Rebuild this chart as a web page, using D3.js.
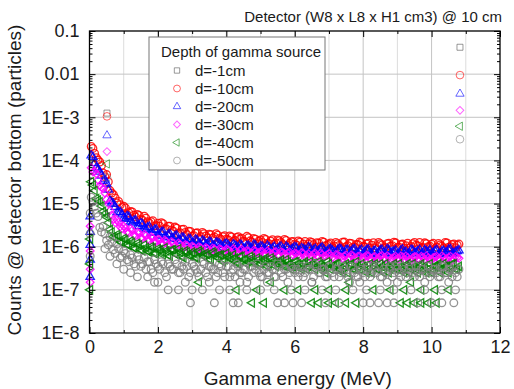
<!DOCTYPE html>
<html>
<head>
<meta charset="utf-8">
<script src="https://cdn.jsdelivr.net/npm/d3@7"></script>
<style>
  body { margin: 0; background: #fff; }
  svg { display: block; font-family: "Liberation Sans", Arial, sans-serif; }
</style>
</head>
<body>
<svg id="chart" width="514" height="389"></svg>
<script>
// energy bins (MeV) of the continuum, two interleaved sets of bins
const energy = [
  0.1, 0.2, 0.3, 0.4, 0.5, 0.6, 0.7, 0.8, 0.9, 1.0,
  1.1, 1.2, 1.3, 1.4, 1.5, 1.6, 1.7, 1.8, 1.9, 2.0,
  2.1, 2.2, 2.3, 2.4, 2.5, 2.6, 2.7, 2.8, 2.9, 3.0,
  3.1, 3.2, 3.3, 3.4, 3.5, 3.6, 3.7, 3.8, 3.9, 4.0,
  4.1, 4.2, 4.3, 4.4, 4.5, 4.6, 4.7, 4.8, 4.9, 5.0,
  5.1, 5.2, 5.3, 5.4, 5.5, 5.6, 5.7, 5.8, 5.9, 6.0,
  6.1, 6.2, 6.3, 6.4, 6.5, 6.6, 6.7, 6.8, 6.9, 7.0,
  7.1, 7.2, 7.3, 7.4, 7.5, 7.6, 7.7, 7.8, 7.9, 8.0,
  8.1, 8.2, 8.3, 8.4, 8.5, 8.6, 8.7, 8.8, 8.9, 9.0,
  9.1, 9.2, 9.3, 9.4, 9.5, 9.6, 9.7, 9.8, 9.9, 10.0,
  10.1, 10.2, 10.3, 10.4, 10.5, 10.6, 10.7, 10.8
];
const energyMid = [
  0.05, 0.15, 0.25, 0.35, 0.45, 0.55, 0.65, 0.75, 0.85, 0.95,
  1.05, 1.15, 1.25, 1.35, 1.45, 1.55, 1.65, 1.75, 1.85, 1.95,
  2.05, 2.15, 2.25, 2.35, 2.45, 2.55, 2.65, 2.75, 2.85, 2.95,
  3.05, 3.15, 3.25, 3.35, 3.45, 3.55, 3.65, 3.75, 3.85, 3.95,
  4.05, 4.15, 4.25, 4.35, 4.45, 4.55, 4.65, 4.75, 4.85, 4.95,
  5.05, 5.15, 5.25, 5.35, 5.45, 5.55, 5.65, 5.75, 5.85, 5.95,
  6.05, 6.15, 6.25, 6.35, 6.45, 6.55, 6.65, 6.75, 6.85, 6.95,
  7.05, 7.15, 7.25, 7.35, 7.45, 7.55, 7.65, 7.75, 7.85, 7.95,
  8.05, 8.15, 8.25, 8.35, 8.45, 8.55, 8.65, 8.75, 8.85, 8.95,
  9.05, 9.15, 9.25, 9.35, 9.45, 9.55, 9.65, 9.75, 9.85, 9.95,
  10.05, 10.15, 10.25, 10.35, 10.45, 10.55, 10.65, 10.75
];

const seriesNames = ["d=-1cm", "d=-10cm", "d=-20cm", "d=-30cm", "d=-40cm", "d=-50cm"];

// counts per bin for each source depth (d=-1cm shows no visible continuum)
const d10 = [
  1.9e-4, 1.16e-4, 9.2e-5, 5.1e-5, 4.7e-5, 2.0e-5, 1.6e-5, 1.03e-5, 9.4e-6, 8.7e-6,
  5.6e-6, 6.6e-6, 5.4e-6, 5.6e-6, 4.3e-6, 5.1e-6, 3.8e-6, 3.8e-6, 3.0e-6, 3.5e-6,
  3.6e-6, 2.6e-6, 3.0e-6, 2.45e-6, 2.85e-6, 2.0e-6, 2.5e-6, 2.15e-6, 2.3e-6, 1.75e-6,
  2.05e-6, 1.55e-6, 2.15e-6, 1.77e-6, 1.95e-6, 1.57e-6, 2.0e-6, 1.55e-6, 1.7e-6, 1.5e-6,
  1.77e-6, 1.32e-6, 1.64e-6, 1.52e-6, 1.34e-6, 1.74e-6, 1.37e-6, 1.55e-6, 1.16e-6, 1.44e-6,
  1.55e-6, 1.2e-6, 1.35e-6, 1.15e-6, 1.43e-6, 1.26e-6, 1.47e-6, 1.07e-6, 1.31e-6, 1.14e-6,
  1.36e-6, 1.0e-6, 1.32e-6, 1.16e-6, 1.26e-6, 9.8e-7, 1.2e-6, 1.33e-6, 1.05e-6, 1.15e-6,
  9.5e-7, 1.25e-6, 1.07e-6, 1.27e-6, 1.0e-6, 1.2e-6, 9.7e-7, 1.13e-6, 1.29e-6, 1.02e-6,
  1.16e-6, 9.3e-7, 1.24e-6, 1.05e-6, 1.18e-6, 9.1e-7, 1.17e-6, 1.03e-6, 1.27e-6, 9.6e-7,
  1.12e-6, 9.2e-7, 1.21e-6, 1.01e-6, 1.25e-6, 1.04e-6, 9.4e-7, 1.23e-6, 1.0e-6, 1.14e-6,
  9.0e-7, 1.19e-6, 1.03e-6, 1.26e-6, 9.7e-7, 1.12e-6, 9.5e-7, 1.15e-6
];
const d10b = [
  2.1e-4, 1.45e-4, 1.02e-4, 7.6e-5, 4.2e-5, 3.2e-5, 1.75e-5, 1.35e-5, 1.12e-5, 8.1e-6,
  7.9e-6, 6.1e-6, 6.4e-6, 4.9e-6, 5.3e-6, 4.1e-6, 4.6e-6, 3.5e-6, 4.0e-6, 3.1e-6,
  3.0e-6, 3.4e-6, 2.6e-6, 3.0e-6, 2.3e-6, 2.7e-6, 2.1e-6, 2.55e-6, 1.9e-6, 2.25e-6,
  1.8e-6, 2.1e-6, 1.72e-6, 2.0e-6, 1.6e-6, 1.9e-6, 1.68e-6, 1.85e-6, 1.48e-6, 1.8e-6,
  1.45e-6, 1.68e-6, 1.4e-6, 1.7e-6, 1.58e-6, 1.3e-6, 1.62e-6, 1.28e-6, 1.5e-6, 1.35e-6,
  1.25e-6, 1.48e-6, 1.18e-6, 1.45e-6, 1.22e-6, 1.38e-6, 1.12e-6, 1.4e-6, 1.2e-6, 1.32e-6,
  1.1e-6, 1.28e-6, 1.15e-6, 1.02e-6, 1.3e-6, 1.12e-6, 1.24e-6, 1.0e-6, 1.27e-6, 1.08e-6,
  1.22e-6, 1.04e-6, 1.17e-6, 9.4e-7, 1.28e-6, 1.06e-6, 1.19e-6, 9.8e-7, 1.12e-6, 1.25e-6,
  9.9e-7, 1.21e-6, 1.08e-6, 9.4e-7, 1.26e-6, 1.1e-6, 9.6e-7, 1.2e-6, 1.06e-6, 1.23e-6,
  9.8e-7, 1.15e-6, 1.05e-6, 9.3e-7, 1.18e-6, 1.08e-6, 1.26e-6, 9.6e-7, 1.17e-6, 1.03e-6,
  1.2e-6, 9.8e-7, 1.1e-6, 9.4e-7, 1.22e-6, 1.0e-6, 1.16e-6, 1.08e-6
];
const d20 = [
  1.2e-4, 6.8e-5, 5.5e-5, 3.3e-5, 2.9e-5, 1.15e-5, 9.8e-6, 6.2e-6, 6.3e-6, 4.6e-6,
  5.1e-6, 3.8e-6, 4.0e-6, 3.0e-6, 3.5e-6, 2.6e-6, 2.8e-6, 2.1e-6, 2.45e-6, 1.85e-6,
  2.15e-6, 1.7e-6, 1.9e-6, 1.55e-6, 1.75e-6, 1.4e-6, 1.62e-6, 1.3e-6, 1.5e-6, 1.22e-6,
  1.45e-6, 1.2e-6, 1.38e-6, 1.12e-6, 1.3e-6, 1.05e-6, 1.24e-6, 1.15e-6, 9.7e-7, 1.18e-6,
  9.6e-7, 1.14e-6, 1.0e-6, 1.12e-6, 8.8e-7, 1.05e-6, 9.5e-7, 1.1e-6, 8.6e-7, 1.02e-6,
  9.0e-7, 1.06e-6, 8.3e-7, 9.9e-7, 8.8e-7, 1.01e-6, 8.1e-7, 9.4e-7, 8.6e-7, 9.8e-7,
  7.7e-7, 9.2e-7, 8.4e-7, 9.6e-7, 7.5e-7, 8.9e-7, 8.0e-7, 9.5e-7, 7.3e-7, 8.7e-7,
  8.1e-7, 7.0e-7, 8.9e-7, 7.6e-7, 8.3e-7, 6.7e-7, 8.6e-7, 7.4e-7, 8.0e-7, 6.8e-7,
  8.4e-7, 7.1e-7, 7.8e-7, 6.5e-7, 8.2e-7, 7.3e-7, 8.7e-7, 6.9e-7, 7.7e-7, 6.6e-7,
  8.1e-7, 7.2e-7, 6.4e-7, 8.5e-7, 7.0e-7, 7.9e-7, 6.7e-7, 8.3e-7, 7.4e-7, 6.8e-7,
  8.0e-7, 6.6e-7, 7.7e-7, 7.1e-7, 8.6e-7, 6.9e-7, 7.5e-7, 8.2e-7
];
const d20b = [
  1.3e-4, 8.6e-5, 6.2e-5, 4.4e-5, 3.6e-5, 2.1e-5, 1.05e-5, 8.3e-6, 6.4e-6, 5.6e-6,
  4.4e-6, 4.9e-6, 3.6e-6, 4.1e-6, 3.0e-6, 3.3e-6, 2.5e-6, 2.9e-6, 2.1e-6, 2.5e-6,
  1.8e-6, 2.2e-6, 1.65e-6, 1.95e-6, 1.5e-6, 1.8e-6, 1.38e-6, 1.6e-6, 1.25e-6, 1.48e-6,
  1.18e-6, 1.4e-6, 1.1e-6, 1.32e-6, 1.15e-6, 1.26e-6, 1.02e-6, 1.22e-6, 1.08e-6, 1.14e-6,
  1.1e-6, 9.3e-7, 1.08e-6, 9.2e-7, 1.06e-6, 9.0e-7, 1.04e-6, 8.9e-7, 1.07e-6, 9.3e-7,
  1.0e-6, 8.5e-7, 9.7e-7, 9.2e-7, 8.2e-7, 9.6e-7, 8.7e-7, 1.0e-6, 8.0e-7, 9.1e-7,
  9.4e-7, 8.1e-7, 8.8e-7, 7.9e-7, 9.3e-7, 8.3e-7, 7.6e-7, 9.0e-7, 8.5e-7, 7.8e-7,
  8.8e-7, 7.5e-7, 8.2e-7, 8.7e-7, 7.2e-7, 8.4e-7, 7.7e-7, 8.8e-7, 7.0e-7, 8.5e-7,
  7.6e-7, 8.6e-7, 6.8e-7, 8.0e-7, 7.4e-7, 8.5e-7, 7.1e-7, 8.3e-7, 7.5e-7, 8.1e-7,
  7.0e-7, 8.6e-7, 7.6e-7, 6.9e-7, 8.2e-7, 7.3e-7, 8.5e-7, 7.1e-7, 7.8e-7, 8.3e-7,
  7.2e-7, 8.4e-7, 6.8e-7, 8.0e-7, 7.4e-7, 8.7e-7, 7.0e-7, 7.9e-7
];
const d30 = [
  5.4e-5, 4.9e-5, 2.6e-5, 2.2e-5, 1.25e-5, 6.8e-6, 4.3e-6, 4.2e-6, 2.9e-6, 3.0e-6,
  2.2e-6, 2.6e-6, 1.9e-6, 2.2e-6, 1.6e-6, 1.95e-6, 1.45e-6, 1.7e-6, 1.3e-6, 1.5e-6,
  1.2e-6, 1.42e-6, 1.1e-6, 1.3e-6, 1.05e-6, 1.22e-6, 9.6e-7, 1.12e-6, 9.0e-7, 1.04e-6,
  8.6e-7, 1.0e-6, 8.2e-7, 9.6e-7, 7.9e-7, 9.3e-7, 8.0e-7, 9.0e-7, 7.4e-7, 8.8e-7,
  7.6e-7, 8.9e-7, 7.0e-7, 8.4e-7, 7.4e-7, 8.1e-7, 6.7e-7, 8.3e-7, 7.0e-7, 7.7e-7,
  6.6e-7, 8.0e-7, 6.9e-7, 7.5e-7, 6.3e-7, 7.6e-7, 6.8e-7, 7.2e-7, 6.0e-7, 7.1e-7,
  6.4e-7, 7.3e-7, 5.9e-7, 6.9e-7, 6.2e-7, 7.1e-7, 5.8e-7, 6.7e-7, 6.1e-7, 7.0e-7,
  5.6e-7, 6.6e-7, 6.0e-7, 5.3e-7, 6.4e-7, 5.7e-7, 6.2e-7, 5.1e-7, 6.1e-7, 5.5e-7,
  6.3e-7, 5.2e-7, 5.8e-7, 4.9e-7, 6.0e-7, 5.4e-7, 6.2e-7, 5.0e-7, 5.7e-7, 5.3e-7,
  6.1e-7, 5.0e-7, 5.6e-7, 4.8e-7, 5.9e-7, 5.3e-7, 6.0e-7, 5.1e-7, 5.5e-7, 4.9e-7,
  5.8e-7, 5.2e-7, 6.1e-7, 5.0e-7, 5.6e-7, 4.8e-7, 5.9e-7, 5.4e-7
];
const d30b = [
  6.8e-5, 5.6e-5, 3.5e-5, 2.4e-5, 1.75e-5, 1.0e-5, 5.4e-6, 3.6e-6, 3.7e-6, 2.6e-6,
  2.7e-6, 2.1e-6, 2.4e-6, 1.8e-6, 2.05e-6, 1.55e-6, 1.8e-6, 1.4e-6, 1.6e-6, 1.3e-6,
  1.45e-6, 1.15e-6, 1.32e-6, 1.02e-6, 1.2e-6, 9.6e-7, 1.14e-6, 1.0e-6, 1.08e-6, 8.6e-7,
  9.8e-7, 8.4e-7, 9.4e-7, 8.0e-7, 9.0e-7, 7.6e-7, 8.9e-7, 7.3e-7, 8.6e-7, 7.8e-7,
  8.5e-7, 7.2e-7, 8.2e-7, 6.9e-7, 8.7e-7, 7.1e-7, 7.9e-7, 6.8e-7, 8.0e-7, 7.3e-7,
  7.8e-7, 6.5e-7, 7.4e-7, 6.7e-7, 7.7e-7, 6.2e-7, 7.3e-7, 6.5e-7, 7.5e-7, 6.4e-7,
  6.9e-7, 6.0e-7, 7.0e-7, 6.3e-7, 5.7e-7, 6.8e-7, 6.2e-7, 7.1e-7, 5.9e-7, 6.5e-7,
  6.2e-7, 5.4e-7, 6.5e-7, 5.8e-7, 6.1e-7, 5.2e-7, 6.4e-7, 5.6e-7, 6.0e-7, 5.3e-7,
  5.8e-7, 6.2e-7, 5.0e-7, 5.9e-7, 5.5e-7, 6.3e-7, 5.1e-7, 5.8e-7, 5.4e-7, 6.0e-7,
  5.2e-7, 5.8e-7, 6.1e-7, 5.0e-7, 5.5e-7, 5.9e-7, 4.9e-7, 5.7e-7, 6.2e-7, 5.1e-7,
  5.6e-7, 6.0e-7, 4.9e-7, 5.7e-7, 5.3e-7, 6.0e-7, 5.1e-7, 5.6e-7
];
const d40 = [
  2.7e-5, 1.3e-5, 1.1e-5, 6.6e-6, 4.9e-6, 2.5e-6, 1.7e-6, 1.9e-6, 1.3e-6, 1.55e-6,
  1.15e-6, 1.35e-6, 9.5e-7, 1.2e-6, 8.5e-7, 1.1e-6, 8.0e-7, 1.0e-6, 7.0e-7, 9.0e-7,
  7.5e-7, 9.5e-7, 6.5e-7, 8.5e-7, 7.0e-7, 9.0e-7, 6.0e-7, 8.0e-7, 6.5e-7, 7.5e-7,
  5.5e-7, 8.0e-7, 6.5e-7, 7.0e-7, 5.0e-7, 7.5e-7, 6.0e-7, 6.5e-7, 4.5e-7, 7.0e-7,
  5.5e-7, 6.5e-7, 4.5e-7, 6.0e-7, 5.0e-7, 4.0e-7, 6.0e-7, 4.5e-7, 5.5e-7, 4.0e-7,
  5.0e-7, 3.5e-7, 5.5e-7, 4.5e-7, 4.0e-7, 5.0e-7, 3.5e-7, 4.5e-7, 3.0e-7, 4.5e-7,
  4.0e-7, 3.0e-7, 4.5e-7, 3.5e-7, 4.0e-7, 3.0e-7, 4.5e-7, 3.5e-7, 2.5e-7, 4.0e-7,
  3.5e-7, 4.0e-7, 3.0e-7, 2.5e-7, 4.0e-7, 3.5e-7, 3.0e-7, 4.5e-7, 3.0e-7, 3.5e-7,
  2.5e-7, 4.0e-7, 3.5e-7, 3.0e-7, 4.0e-7, 2.5e-7, 3.5e-7, 3.0e-7, 4.0e-7, 3.0e-7,
  3.5e-7, 2.5e-7, 4.0e-7, 3.0e-7, 3.5e-7, 2.5e-7, 4.0e-7, 3.5e-7, 3.0e-7, 2.5e-7,
  3.5e-7, 4.0e-7, 3.0e-7, 3.5e-7, 2.5e-7, 4.0e-7, 3.0e-7, 3.5e-7
];
const d40b = [
  3.2e-5, 2.0e-5, 1.2e-5, 8.8e-6, 5.8e-6, 3.6e-6, 2.2e-6, 1.6e-6, 1.75e-6, 1.25e-6,
  1.45e-6, 1.05e-6, 1.25e-6, 9.0e-7, 1.1e-6, 8.0e-7, 9.5e-7, 7.5e-7, 9.5e-7, 7.0e-7,
  8.5e-7, 6.5e-7, 8.0e-7, 6.0e-7, 8.5e-7, 6.5e-7, 7.5e-7, 5.5e-7, 7.5e-7, 6.0e-7,
  7.0e-7, 5.5e-7, 7.5e-7, 6.0e-7, 6.5e-7, 5.0e-7, 7.0e-7, 5.5e-7, 6.5e-7, 5.0e-7,
  6.0e-7, 5.0e-7, 5.5e-7, 4.0e-7, 6.0e-7, 5.0e-7, 4.5e-7, 5.5e-7, 4.0e-7, 5.0e-7,
  4.5e-7, 5.5e-7, 4.0e-7, 5.0e-7, 3.5e-7, 4.5e-7, 4.0e-7, 5.0e-7, 4.0e-7, 3.5e-7,
  4.5e-7, 3.5e-7, 4.0e-7, 3.0e-7, 4.5e-7, 4.0e-7, 3.5e-7, 4.0e-7, 3.0e-7, 4.5e-7,
  3.0e-7, 3.5e-7, 4.0e-7, 3.0e-7, 3.5e-7, 2.5e-7, 4.0e-7, 3.0e-7, 3.5e-7, 4.0e-7,
  3.5e-7, 3.0e-7, 2.5e-7, 4.0e-7, 3.0e-7, 3.5e-7, 4.0e-7, 2.5e-7, 3.5e-7, 3.0e-7,
  4.0e-7, 3.0e-7, 3.5e-7, 2.5e-7, 4.0e-7, 3.0e-7, 3.5e-7, 3.0e-7, 2.5e-7, 4.0e-7,
  3.0e-7, 3.5e-7, 2.5e-7, 4.0e-7, 3.5e-7, 3.0e-7, 4.0e-7, 3.0e-7
];
const d50 = [
  1.1e-5, 6.0e-6, 2.8e-6, 3.0e-6, 1.4e-6, 1.7e-6, 8.5e-7, 1.15e-6, 5.5e-7, 8.0e-7,
  5.0e-7, 6.5e-7, 4.0e-7, 6.0e-7, 3.5e-7, 5.5e-7, 4.5e-7, 3.0e-7, 5.0e-7, 3.5e-7,
  4.5e-7, 2.5e-7, 4.0e-7, 3.0e-7, 5.0e-7, 2.5e-7, 3.5e-7, 4.5e-7, 2.0e-7, 4.0e-7,
  3.0e-7, 2.0e-7, 4.5e-7, 2.5e-7, 3.5e-7, 3.0e-7, 2.0e-7, 4.0e-7, 2.5e-7, 3.5e-7,
  2.0e-7, 3.0e-7, 4.0e-7, 2.5e-7, 3.0e-7, 1.5e-7, 3.5e-7, 2.5e-7, 4.0e-7, 2.0e-7,
  3.0e-7, 2.5e-7, 3.5e-7, 2.0e-7, 4.0e-7, 2.5e-7, 3.0e-7, 1.5e-7, 3.5e-7, 2.5e-7,
  2.0e-7, 3.5e-7, 2.5e-7, 3.0e-7, 1.5e-7, 4.0e-7, 2.5e-7, 3.0e-7, 2.0e-7, 3.5e-7,
  2.5e-7, 3.0e-7, 2.0e-7, 3.5e-7, 2.5e-7, 1.5e-7, 3.0e-7, 2.0e-7, 4.0e-7, 2.5e-7,
  3.0e-7, 2.0e-7, 3.5e-7, 2.5e-7, 2.0e-7, 3.0e-7, 1.5e-7, 3.5e-7, 2.5e-7, 3.0e-7,
  2.0e-7, 3.0e-7, 2.5e-7, 3.5e-7, 2.0e-7, 2.5e-7, 3.0e-7, 1.5e-7, 3.5e-7, 2.5e-7,
  3.0e-7, 2.0e-7, 3.5e-7, 2.5e-7, 3.0e-7, 2.0e-7, 2.5e-7, 3.0e-7
];
const d50b = [
  1.4e-5, 8.5e-6, 5.0e-6, 2.2e-6, 2.0e-6, 1.1e-6, 1.3e-6, 7.0e-7, 9.0e-7, 6.0e-7,
  7.0e-7, 4.5e-7, 5.5e-7, 3.5e-7, 5.0e-7, 4.0e-7, 3.0e-7, 4.5e-7, 2.5e-7, 4.0e-7,
  3.0e-7, 4.0e-7, 2.0e-7, 3.5e-7, 3.0e-7, 4.0e-7, 2.5e-7, 3.0e-7, 3.5e-7, 2.5e-7,
  3.5e-7, 2.5e-7, 3.0e-7, 4.0e-7, 2.0e-7, 3.5e-7, 3.0e-7, 2.5e-7, 3.5e-7, 2.0e-7,
  3.5e-7, 2.5e-7, 2.0e-7, 3.5e-7, 2.5e-7, 3.0e-7, 2.0e-7, 3.5e-7, 3.0e-7, 2.5e-7,
  2.0e-7, 3.5e-7, 2.5e-7, 3.0e-7, 2.0e-7, 3.5e-7, 2.0e-7, 3.0e-7, 2.5e-7, 3.0e-7,
  3.0e-7, 2.5e-7, 2.0e-7, 3.5e-7, 3.0e-7, 2.0e-7, 3.5e-7, 2.5e-7, 3.0e-7, 2.0e-7,
  3.5e-7, 2.0e-7, 3.0e-7, 2.5e-7, 3.0e-7, 2.0e-7, 3.5e-7, 2.5e-7, 2.0e-7, 3.0e-7,
  2.0e-7, 3.5e-7, 2.5e-7, 3.0e-7, 3.5e-7, 2.0e-7, 2.5e-7, 3.0e-7, 2.0e-7, 3.5e-7,
  2.5e-7, 3.5e-7, 2.0e-7, 3.0e-7, 2.5e-7, 3.5e-7, 2.0e-7, 3.0e-7, 2.5e-7, 2.0e-7,
  3.0e-7, 2.5e-7, 2.0e-7, 3.5e-7, 2.5e-7, 3.0e-7, 3.5e-7, 2.0e-7
];

// isolated low-count points [energy, counts] (first bin and 1-3 count rows)
const d20Extra = [[0.02, 5e-6], [0.02, 2.2e-6], [0.02, 1.1e-6], [0.02, 5e-7], [0.02, 2e-7]];
const d30Extra = [[0.02, 3e-6], [0.02, 8e-7], [0.02, 3e-7], [0.02, 1.5e-7]];
const d40Extra = [
  [0.02, 1.5e-6], [0.02, 4e-7], [0.02, 1e-7],
  [3.2, 1.5e-7], [5.3, 1.5e-7], [7.6, 1.5e-7], [9.4, 1.5e-7],
  [4.3, 1e-7], [4.9, 1e-7], [5.7, 1e-7], [6.1, 1e-7], [6.6, 1e-7], [7.0, 1e-7], [7.5, 1e-7],
  [8.3, 1e-7], [8.8, 1e-7], [9.2, 1e-7], [9.7, 1e-7], [10.1, 1e-7], [10.5, 1e-7],
  [4.75, 5e-8], [5.1, 5e-8], [6.5, 5e-8], [6.7, 5e-8], [7.0, 5e-8], [7.2, 5e-8], [7.5, 5e-8],
  [7.8, 5e-8], [9.1, 5e-8], [9.3, 5e-8], [9.5, 5e-8], [9.7, 5e-8], [9.9, 5e-8], [10.15, 5e-8]
];
const d50Extra = [
  [0.02, 6e-6], [0.02, 2e-6], [0.02, 6e-7],
  [0.45, 9e-7], [0.6, 6e-7], [0.8, 4e-7], [1.0, 3e-7], [1.2, 2.5e-7], [1.4, 2e-7], [1.7, 2e-7], [1.9, 1.5e-7],
  [2.0, 1.5e-7], [2.8, 1.5e-7], [3.5, 1.5e-7], [4.4, 1.5e-7], [5.2, 1.5e-7], [6.5, 1.5e-7], [7.9, 1.5e-7],
  [9.0, 1.5e-7], [10.5, 1.5e-7],
  [2.3, 1e-7], [2.6, 1e-7], [3.0, 1e-7], [3.3, 1e-7], [3.8, 1e-7], [4.1, 1e-7], [4.6, 1e-7], [5.0, 1e-7],
  [5.4, 1e-7], [5.9, 1e-7], [6.3, 1e-7], [6.8, 1e-7], [7.2, 1e-7], [7.7, 1e-7], [8.1, 1e-7], [8.5, 1e-7],
  [8.9, 1e-7], [9.4, 1e-7], [9.8, 1e-7], [10.3, 1e-7], [10.7, 1e-7],
  [2.95, 5e-8], [3.65, 5e-8], [4.2, 5e-8], [4.35, 5e-8], [5.5, 5e-8], [5.7, 5e-8], [5.95, 5e-8], [6.2, 5e-8],
  [6.9, 5e-8], [7.3, 5e-8], [8.0, 5e-8], [8.2, 5e-8], [8.45, 5e-8], [8.7, 5e-8], [8.9, 5e-8], [9.6, 5e-8],
  [10.0, 5e-8], [10.3, 5e-8], [10.65, 5e-8]
];

// line peaks: 0.511 MeV annihilation and 10.83 MeV capture gamma
const peakEnergy = [0.511, 10.83];
const peakD1 = [1.25e-3, 0.042];
const peakD10 = [1.05e-3, 0.0095];
const peakD20 = [3.8e-4, 3.5e-3];
const peakD30 = [1.6e-4, 1.45e-3];
const peakD40 = [8.3e-5, 6.2e-4];
const peakD50 = [4e-5, 3.1e-4];

const xTicks = [0, 2, 4, 6, 8, 10, 12];
const yTicks = [1e-8, 1e-7, 1e-6, 1e-5, 1e-4, 1e-3, 0.01, 0.1];
const yTickLabels = ["1E-8", "1E-7", "1E-6", "1E-5", "1E-4", "1E-3", "0.01", "0.1"];

const width = 514, height = 389;
const margin = { top: 31, right: 14, bottom: 56, left: 89.5 };
const plotRight = width - margin.right, plotBottom = height - margin.bottom;

const x = d3.scaleLinear().domain([0, 12]).range([margin.left, plotRight]);
const y = d3.scaleLog().domain([1e-8, 0.1]).range([plotBottom, margin.top]);

const svg = d3.select('#chart');

const peaks = (vals) => vals.map((v, i) => [peakEnergy[i], v, true]);
const band = (a, b) => d3.merge(a.map((v, i) => [[energyMid[i], b[i]], [energy[i], v]]));

const series = [
  { name: seriesNames[0], color: '#555555', type: d3.symbolSquare, size: 36, rot: 0, pts: peaks(peakD1) },
  { name: seriesNames[1], color: '#ff0000', type: d3.symbolCircle, size: 46, rot: 0, pts: band(d10, d10b).concat(peaks(peakD10)) },
  { name: seriesNames[2], color: '#0000ff', type: d3.symbolTriangle, size: 30, rot: 0, pts: band(d20, d20b).concat(d20Extra, peaks(peakD20)) },
  { name: seriesNames[3], color: '#ff00ff', type: d3.symbolSquare, size: 30, rot: 45, pts: band(d30, d30b).concat(d30Extra, peaks(peakD30)) },
  { name: seriesNames[4], color: '#008000', type: d3.symbolTriangle, size: 30, rot: -90, pts: band(d40, d40b).concat(d40Extra, peaks(peakD40)) },
  { name: seriesNames[5], color: '#808080', type: d3.symbolCircle, size: 46, rot: 0, pts: band(d50, d50b).concat(d50Extra, peaks(peakD50)) }
];

// grid
const grid = svg.append('g');
grid.selectAll('line.vx')
  .data(d3.range(1, 12))
  .join('line')
  .attr('x1', d => x(d)).attr('x2', d => x(d))
  .attr('y1', margin.top).attr('y2', plotBottom)
  .attr('stroke', d => d % 2 === 0 ? '#c4c4c4' : '#dcdcdc')
  .attr('stroke-width', 1);
grid.selectAll('line.hy')
  .data(yTicks.slice(1, -1))
  .join('line')
  .attr('x1', margin.left).attr('x2', plotRight)
  .attr('y1', d => y(d)).attr('y2', d => y(d))
  .attr('stroke', '#c4c4c4')
  .attr('stroke-width', 1);

// markers: continuum thicker, isolated peak markers thin and pale
series.forEach(s => {
  const sym = d3.symbol().type(s.type).size(s.size)();
  svg.append('g')
    .attr('fill', 'none')
    .attr('stroke', s.color)
    .selectAll('path')
    .data(s.pts)
    .join('path')
    .attr('d', sym)
    .attr('stroke-width', d => d[2] ? 1 : 1.3)
    .attr('stroke-opacity', d => d[2] ? 0.6 : 0.85)
    .attr('transform', d => `translate(${x(d[0])},${y(d[1])}) rotate(${s.rot})`);
});

// axes with inward ticks
const minorY = [];
for (let e = -8; e < -1; e++) for (let m = 2; m <= 9; m++) minorY.push(m * Math.pow(10, e));
const minorX = [1, 3, 5, 7, 9, 11];

const addAxis = (axis, tf) => svg.append('g')
  .attr('transform', tf)
  .call(axis)
  .call(g => g.select('.domain').remove())
  .call(g => g.selectAll('.tick line').attr('stroke', '#000'));

addAxis(d3.axisBottom(x).tickValues(xTicks).tickSize(-6).tickPadding(7).tickFormat(d3.format('d')), `translate(0,${plotBottom})`);
addAxis(d3.axisBottom(x).tickValues(minorX).tickSize(-3).tickFormat(''), `translate(0,${plotBottom})`);
addAxis(d3.axisTop(x).tickValues(xTicks).tickSize(-6).tickFormat(''), `translate(0,${margin.top})`);
addAxis(d3.axisTop(x).tickValues(minorX).tickSize(-3).tickFormat(''), `translate(0,${margin.top})`);
addAxis(d3.axisLeft(y).tickValues(yTicks).tickSize(-6).tickPadding(10).tickFormat((d, i) => yTickLabels[i]), `translate(${margin.left},0)`);
addAxis(d3.axisLeft(y).tickValues(minorY).tickSize(-3).tickFormat(''), `translate(${margin.left},0)`);
addAxis(d3.axisRight(y).tickValues(yTicks).tickSize(-6).tickFormat(''), `translate(${plotRight},0)`);
addAxis(d3.axisRight(y).tickValues(minorY).tickSize(-3).tickFormat(''), `translate(${plotRight},0)`);

svg.selectAll('.tick text')
  .attr('font-family', '"Liberation Sans", Arial, sans-serif')
  .attr('font-size', 18)
  .attr('fill', '#1a1a1a');

svg.append('rect')
  .attr('x', margin.left).attr('y', margin.top)
  .attr('width', plotRight - margin.left).attr('height', plotBottom - margin.top)
  .attr('fill', 'none').attr('stroke', '#000').attr('stroke-width', 1.3);

// legend
const legend = svg.append('g');
legend.append('rect')
  .attr('x', 149).attr('y', 37).attr('width', 176).attr('height', 133)
  .attr('fill', '#fff').attr('stroke', '#777').attr('stroke-width', 1);
legend.append('text')
  .attr('x', 161).attr('y', 52).attr('dy', '0.35em')
  .attr('font-size', 15).attr('fill', '#1a1a1a')
  .text('Depth of gamma source');
const rows = legend.selectAll('g.row')
  .data(series)
  .join('g')
  .attr('transform', (d, i) => `translate(0,${70.5 + i * 18})`);
rows.append('path')
  .attr('d', d => d3.symbol().type(d.type).size(d.size * 0.8)())
  .attr('transform', d => `translate(177,0) rotate(${d.rot})`)
  .attr('fill', 'none')
  .attr('stroke', d => d.color)
  .attr('stroke-opacity', 0.6)
  .attr('stroke-width', 1);
rows.append('text')
  .attr('x', 195).attr('dy', '0.35em')
  .attr('font-size', 15).attr('fill', '#1a1a1a')
  .text(d => d.name);

// titles
svg.append('text')
  .attr('x', 502).attr('y', 17).attr('dy', '0.35em')
  .attr('text-anchor', 'end')
  .attr('font-size', 15).attr('fill', '#1a1a1a')
  .text('Detector (W8 x L8 x H1 cm3) @ 10 cm');
svg.append('text')
  .attr('x', (margin.left + plotRight) / 2 + 3).attr('y', 378).attr('dy', '0.35em')
  .attr('text-anchor', 'middle')
  .attr('font-size', 19).attr('fill', '#1a1a1a')
  .text('Gamma energy (MeV)');
svg.append('text')
  .attr('transform', 'translate(14,180) rotate(-90)')
  .attr('dy', '0.35em')
  .attr('text-anchor', 'middle')
  .attr('font-size', 19).attr('fill', '#1a1a1a')
  .text('Counts @ detector bottom (particles)');
</script>
</body>
</html>
